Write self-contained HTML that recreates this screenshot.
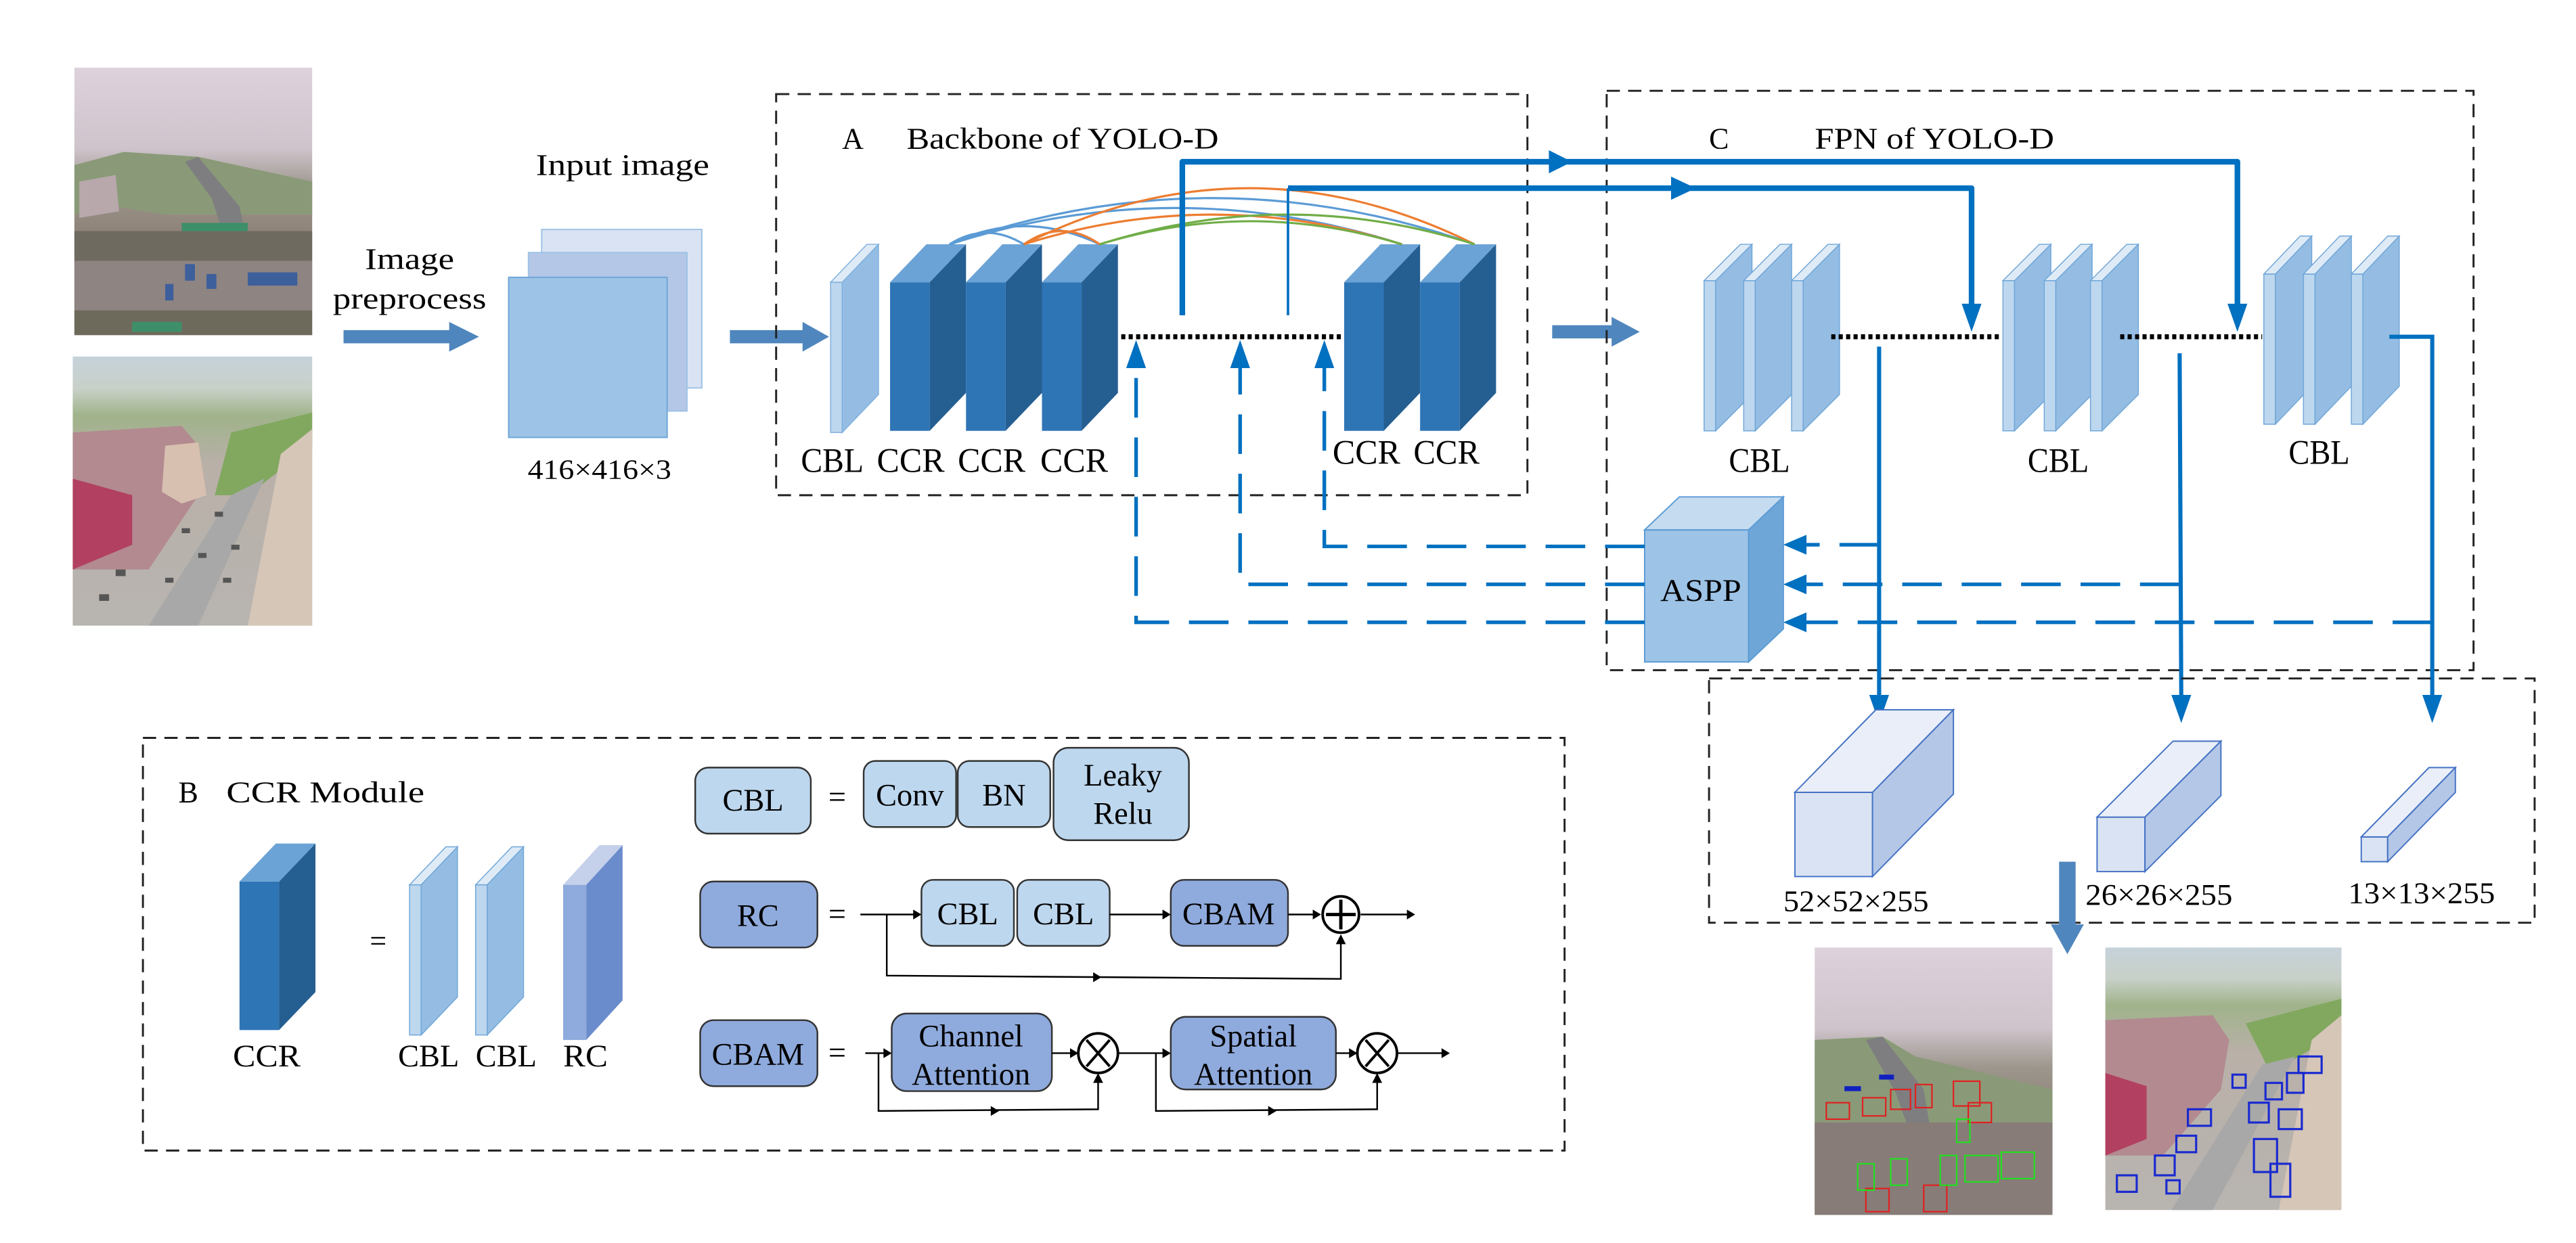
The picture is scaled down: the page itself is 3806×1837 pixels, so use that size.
<!DOCTYPE html>
<html><head><meta charset="utf-8"><style>
html,body{margin:0;padding:0;background:#fff;}
svg{display:block;}
text{font-family:"Liberation Serif",serif;fill:#000;}
</style></head><body>
<svg width="3806" height="1837" viewBox="0 0 1560 753" xmlns="http://www.w3.org/2000/svg">
<defs>
<linearGradient id="p1" x1="0" y1="0" x2="0" y2="1">
<stop offset="0" stop-color="#ddd2dc"/><stop offset="0.3" stop-color="#cfc4cc"/><stop offset="0.45" stop-color="#9c968c"/><stop offset="0.65" stop-color="#8c7f74"/><stop offset="1" stop-color="#8a7e78"/></linearGradient>
<linearGradient id="p2" x1="0" y1="0" x2="0" y2="1">
<stop offset="0" stop-color="#c6d2da"/><stop offset="0.12" stop-color="#c8d0c8"/><stop offset="0.22" stop-color="#9fb38a"/><stop offset="0.4" stop-color="#b9b0a8"/><stop offset="1" stop-color="#b8b4b0"/></linearGradient>
</defs>

<!-- input photos -->
<g>
<rect x="45" y="41" width="144" height="162" fill="url(#p1)"/>
<path d="M45,100 L75,92 L120,95 L189,110 L189,130 L100,130 L70,125 L45,130Z" fill="#8a9a78"/>
<path d="M48,110 L70,106 L72,128 L48,132Z" fill="#b8a8ac"/>
<path d="M120,95 L145,125 L150,150 L138,150 L128,120 L112,98Z" fill="#7e7e80"/>
<rect x="45" y="140" width="144" height="18" fill="#6f6a60"/>
<rect x="45" y="158" width="144" height="30" fill="#8e8482"/>
<rect x="45" y="188" width="144" height="15" fill="#6d6a5c"/>
<g fill="#3d5f9c"><rect x="112" y="160" width="6" height="10"/><rect x="150" y="165" width="30" height="8"/><rect x="100" y="172" width="5" height="10"/><rect x="125" y="166" width="6" height="9"/></g>
<g fill="#3d8f6a"><rect x="110" y="135" width="40" height="5"/><rect x="80" y="195" width="30" height="6"/></g>
<rect x="44" y="216" width="145" height="163" fill="url(#p2)"/>
<path d="M44,262 L110,258 L120,270 L120,300 L90,345 L44,345Z" fill="#b28a90"/>
<path d="M44,290 L80,300 L80,330 L44,345Z" fill="#b24060"/>
<path d="M100,270 L120,268 L125,300 L110,305 L98,298Z" fill="#d8c0b0"/>
<path d="M140,262 L189,250 L189,270 L150,300 L130,300Z" fill="#82a860"/>
<path d="M140,300 L160,290 L120,379 L90,379Z" fill="#a8a8a8"/>
<path d="M170,275 L189,260 L189,379 L150,379Z" fill="#d6c6b8"/>
<g fill="#555"><rect x="110" y="320" width="5" height="3"/><rect x="120" y="335" width="5" height="3"/><rect x="130" y="310" width="5" height="3"/><rect x="100" y="350" width="5" height="3"/><rect x="60" y="360" width="6" height="4"/><rect x="70" y="345" width="6" height="4"/><rect x="140" y="330" width="5" height="3"/><rect x="135" y="350" width="5" height="3"/></g>
</g>

<!-- Image preprocess -->
<text x="248" y="163" font-size="18" text-anchor="middle" textLength="54" lengthAdjust="spacingAndGlyphs">Image</text>
<text x="248" y="187" font-size="18" text-anchor="middle" textLength="93" lengthAdjust="spacingAndGlyphs">preprocess</text>
<polygon points="208,200 272,200 272,195 290,204 272,213 272,208 208,208" fill="#4f86bd"/>

<!-- input image -->
<text x="377" y="106" font-size="18" text-anchor="middle" textLength="105" lengthAdjust="spacingAndGlyphs">Input image</text>
<rect x="328" y="139" width="97" height="96" fill="#dae3f3" stroke="#9dc3e6" stroke-width="0.8"/>
<rect x="320" y="153" width="96" height="96" fill="#b4c7e7" stroke="#9dc3e6" stroke-width="0.8"/>
<rect x="308" y="168" width="96" height="97" fill="#9dc3e6" stroke="#6fa6d8" stroke-width="0.8"/>
<text x="363" y="290" font-size="17" text-anchor="middle" textLength="87" lengthAdjust="spacingAndGlyphs">416×416×3</text>
<polygon points="442,200 486,200 486,195 502,204 486,213 486,208 442,208" fill="#4f86bd"/>

<!-- Box A -->
<rect x="470" y="57" width="455" height="243" fill="none" stroke="#222" stroke-width="1.2" stroke-dasharray="8,5"/>
<text x="510" y="90" font-size="18">A</text>
<text x="549" y="90" font-size="18" textLength="189" lengthAdjust="spacingAndGlyphs">Backbone of YOLO-D</text>

<!-- backbone CBL slab -->
<g transform="translate(503,1)">
<rect x="0" y="170" width="7" height="91" fill="#bdd7ee" stroke="#7fb0de" stroke-width="0.6"/>
<polygon points="7,170 29,147 29,238 7,261" fill="#95bde3" stroke="#7fb0de" stroke-width="0.6"/>
<polygon points="0,170 22,147 29,147 7,170" fill="#deebf7" stroke="#7fb0de" stroke-width="0.6"/>
</g>
<!-- CCR blocks -->
<g id="ccr">
<rect x="539" y="171" width="24" height="90" fill="#2e75b6"/>
<polygon points="563,171 585,148 585,238 563,261" fill="#255e91"/>
<polygon points="539,171 561,148 585,148 563,171" fill="#6ba3d6"/>
</g>
<g transform="translate(46,0)">
<rect x="539" y="171" width="24" height="90" fill="#2e75b6"/>
<polygon points="563,171 585,148 585,238 563,261" fill="#255e91"/>
<polygon points="539,171 561,148 585,148 563,171" fill="#6ba3d6"/>
</g>
<g transform="translate(92,0)">
<rect x="539" y="171" width="24" height="90" fill="#2e75b6"/>
<polygon points="563,171 585,148 585,238 563,261" fill="#255e91"/>
<polygon points="539,171 561,148 585,148 563,171" fill="#6ba3d6"/>
</g>
<g transform="translate(275,0)">
<rect x="539" y="171" width="24" height="90" fill="#2e75b6"/>
<polygon points="563,171 585,148 585,238 563,261" fill="#255e91"/>
<polygon points="539,171 561,148 585,148 563,171" fill="#6ba3d6"/>
</g>
<g transform="translate(321,0)">
<rect x="539" y="171" width="24" height="90" fill="#2e75b6"/>
<polygon points="563,171 585,148 585,238 563,261" fill="#255e91"/>
<polygon points="539,171 561,148 585,148 563,171" fill="#6ba3d6"/>
</g>
<!-- arcs -->
<g fill="none" stroke-width="1.3">
<path d="M575,148 Q734,92 893,148" stroke="#5b9bd5"/>
<path d="M575,148 Q712,104 849,148" stroke="#5b9bd5"/>
<path d="M575,148 Q620,126 666,148" stroke="#5b9bd5"/>
<path d="M575,148 Q597,134 620,148" stroke="#5b9bd5"/>
<path d="M620,148 Q756,80 893,148" stroke="#ed7d31"/>
<path d="M620,148 Q734,112 849,148" stroke="#ed7d31"/>
<path d="M620,148 Q643,132 666,148" stroke="#ed7d31"/>
<path d="M666,148 Q780,112 893,148" stroke="#70ad47"/>
<path d="M666,148 Q757,120 849,148" stroke="#70ad47"/>
</g>
<g font-size="21">
<text x="485" y="286" textLength="38" lengthAdjust="spacingAndGlyphs">CBL</text>
<text x="531" y="286" textLength="41" lengthAdjust="spacingAndGlyphs">CCR</text>
<text x="580" y="286" textLength="41" lengthAdjust="spacingAndGlyphs">CCR</text>
<text x="630" y="286" textLength="41" lengthAdjust="spacingAndGlyphs">CCR</text>
<text x="807" y="281" textLength="41" lengthAdjust="spacingAndGlyphs">CCR</text>
<text x="856" y="281" textLength="40" lengthAdjust="spacingAndGlyphs">CCR</text>
</g>
<line x1="679" y1="204" x2="814" y2="204" stroke="#000" stroke-width="3" stroke-dasharray="2.5,2"/>

<!-- arrow between boxes -->
<polygon points="940,197 976,197 976,192 993,201 976,210 976,205 940,205" fill="#4f86bd"/>

<!-- Box C -->
<rect x="973" y="55" width="525" height="351" fill="none" stroke="#222" stroke-width="1.2" stroke-dasharray="8,5"/>
<text x="1035" y="90" font-size="18">C</text>
<text x="1099" y="90" font-size="18" textLength="145" lengthAdjust="spacingAndGlyphs">FPN of YOLO-D</text>

<!-- FPN slabs -->
<g transform="translate(1032,0)"><rect x="0" y="170" width="7" height="91" fill="#bdd7ee" stroke="#6fa6d8" stroke-width="0.6"/><polygon points="7,170 29,148 29,239 7,261" fill="#95bde3" stroke="#6fa6d8" stroke-width="0.6"/><polygon points="0,170 22,148 29,148 7,170" fill="#deebf7" stroke="#6fa6d8" stroke-width="0.6"/></g>
<g transform="translate(1056,0)"><rect x="0" y="170" width="7" height="91" fill="#bdd7ee" stroke="#6fa6d8" stroke-width="0.6"/><polygon points="7,170 29,148 29,239 7,261" fill="#95bde3" stroke="#6fa6d8" stroke-width="0.6"/><polygon points="0,170 22,148 29,148 7,170" fill="#deebf7" stroke="#6fa6d8" stroke-width="0.6"/></g>
<g transform="translate(1085,0)"><rect x="0" y="170" width="7" height="91" fill="#bdd7ee" stroke="#6fa6d8" stroke-width="0.6"/><polygon points="7,170 29,148 29,239 7,261" fill="#95bde3" stroke="#6fa6d8" stroke-width="0.6"/><polygon points="0,170 22,148 29,148 7,170" fill="#deebf7" stroke="#6fa6d8" stroke-width="0.6"/></g>
<g transform="translate(1213,0)"><rect x="0" y="170" width="7" height="91" fill="#bdd7ee" stroke="#6fa6d8" stroke-width="0.6"/><polygon points="7,170 29,148 29,239 7,261" fill="#95bde3" stroke="#6fa6d8" stroke-width="0.6"/><polygon points="0,170 22,148 29,148 7,170" fill="#deebf7" stroke="#6fa6d8" stroke-width="0.6"/></g>
<g transform="translate(1238,0)"><rect x="0" y="170" width="7" height="91" fill="#bdd7ee" stroke="#6fa6d8" stroke-width="0.6"/><polygon points="7,170 29,148 29,239 7,261" fill="#95bde3" stroke="#6fa6d8" stroke-width="0.6"/><polygon points="0,170 22,148 29,148 7,170" fill="#deebf7" stroke="#6fa6d8" stroke-width="0.6"/></g>
<g transform="translate(1266,0)"><rect x="0" y="170" width="7" height="91" fill="#bdd7ee" stroke="#6fa6d8" stroke-width="0.6"/><polygon points="7,170 29,148 29,239 7,261" fill="#95bde3" stroke="#6fa6d8" stroke-width="0.6"/><polygon points="0,170 22,148 29,148 7,170" fill="#deebf7" stroke="#6fa6d8" stroke-width="0.6"/></g>
<g transform="translate(1371,-4)"><rect x="0" y="170" width="7" height="91" fill="#bdd7ee" stroke="#6fa6d8" stroke-width="0.6"/><polygon points="7,170 29,147 29,238 7,261" fill="#95bde3" stroke="#6fa6d8" stroke-width="0.6"/><polygon points="0,170 22,147 29,147 7,170" fill="#deebf7" stroke="#6fa6d8" stroke-width="0.6"/></g>
<g transform="translate(1395,-4)"><rect x="0" y="170" width="7" height="91" fill="#bdd7ee" stroke="#6fa6d8" stroke-width="0.6"/><polygon points="7,170 29,147 29,238 7,261" fill="#95bde3" stroke="#6fa6d8" stroke-width="0.6"/><polygon points="0,170 22,147 29,147 7,170" fill="#deebf7" stroke="#6fa6d8" stroke-width="0.6"/></g>
<g transform="translate(1424,-4)"><rect x="0" y="170" width="7" height="91" fill="#bdd7ee" stroke="#6fa6d8" stroke-width="0.6"/><polygon points="7,170 29,147 29,238 7,261" fill="#95bde3" stroke="#6fa6d8" stroke-width="0.6"/><polygon points="0,170 22,147 29,147 7,170" fill="#deebf7" stroke="#6fa6d8" stroke-width="0.6"/></g>
<g font-size="21">
<text x="1047" y="286" textLength="37" lengthAdjust="spacingAndGlyphs">CBL</text>
<text x="1228" y="286" textLength="37" lengthAdjust="spacingAndGlyphs">CBL</text>
<text x="1386" y="281" textLength="37" lengthAdjust="spacingAndGlyphs">CBL</text>
</g>
<line x1="1109" y1="204" x2="1211" y2="204" stroke="#000" stroke-width="3" stroke-dasharray="2.5,2"/>
<line x1="1284" y1="204" x2="1370" y2="204" stroke="#000" stroke-width="3" stroke-dasharray="2.5,2"/>

<!-- thick skip lines -->
<g fill="none" stroke="#0070c0" stroke-linejoin="round">
<polyline points="716,191 716,98 1355,98 1355,186" stroke-width="3.4"/>
<line x1="780" y1="191" x2="780" y2="114" stroke-width="1.5"/>
<polyline points="780,114 1194,114 1194,186" stroke-width="3.4"/>
</g>
<g fill="#0070c0">
<polygon points="938,91 952,98 938,105"/>
<polygon points="1012,107 1027,114 1012,121"/>
<polygon points="1349,184 1361,184 1355,201"/>
<polygon points="1188,184 1200,184 1194,201"/>
</g>

<!-- ASPP -->
<rect x="996" y="321" width="63" height="80" fill="#9dc3e6" stroke="#5b9bd5" stroke-width="0.8"/>
<polygon points="996,321 1017,301 1080,301 1059,321" fill="#c5dbf0" stroke="#5b9bd5" stroke-width="0.8"/>
<polygon points="1059,321 1080,301 1080,381 1059,401" fill="#6fa6d8" stroke="#5b9bd5" stroke-width="0.8"/>
<text x="1030" y="364" font-size="19" text-anchor="middle" textLength="49" lengthAdjust="spacingAndGlyphs">ASPP</text>

<!-- outputs from FPN -->
<g fill="none" stroke="#0070c0" stroke-width="2.5">
<line x1="1138" y1="210" x2="1138" y2="425"/>
<line x1="1320" y1="214" x2="1321" y2="425"/>
<polyline points="1447,204 1473,204 1473,425"/>
</g>
<g fill="#0070c0">
<polygon points="1132,421 1144,421 1138,438"/>
<polygon points="1315,421 1327,421 1321,438"/>
<polygon points="1467,421 1479,421 1473,438"/>
</g>
<!-- dashed into ASPP -->
<g fill="none" stroke="#0070c0" stroke-width="2.2" stroke-dasharray="24,12">
<line x1="1138" y1="330" x2="1094" y2="330"/>
<line x1="1320" y1="354" x2="1094" y2="354"/>
<line x1="1473" y1="377" x2="1094" y2="377"/>
<polyline points="996,331 802,331 802,223"/>
<polyline points="996,354 751,354 751,223"/>
<polyline points="996,377 688,377 688,223"/>
</g>
<g fill="#0070c0">
<polygon points="1080,330 1094,324 1094,336"/>
<polygon points="1080,354 1094,348 1094,360"/>
<polygon points="1080,377 1094,371 1094,383"/>
<polygon points="802,206 796,223 808,223"/>
<polygon points="751,206 745,223 757,223"/>
<polygon points="688,206 682,223 694,223"/>
</g>

<!-- output box -->
<rect x="1035" y="411" width="500" height="148" fill="none" stroke="#222" stroke-width="1.2" stroke-dasharray="8,5"/>
<g stroke="#4472c4" stroke-width="0.8">
<rect x="1087" y="480" width="47" height="51" fill="#dae3f3"/>
<polygon points="1087,480 1136,430 1183,430 1134,480" fill="#e9eef8"/>
<polygon points="1134,480 1183,430 1183,481 1134,531" fill="#b4c7e7"/>
<rect x="1270" y="495" width="29" height="33" fill="#dae3f3"/>
<polygon points="1270,495 1316,449 1345,449 1299,495" fill="#e9eef8"/>
<polygon points="1299,495 1345,449 1345,482 1299,528" fill="#b4c7e7"/>
<rect x="1430" y="507" width="16" height="15" fill="#dae3f3"/>
<polygon points="1430,507 1471,465 1487,465 1446,507" fill="#e9eef8"/>
<polygon points="1446,507 1487,465 1487,480 1446,522" fill="#b4c7e7"/>
</g>
<g font-size="18">
<text x="1080" y="552" textLength="88" lengthAdjust="spacingAndGlyphs">52×52×255</text>
<text x="1263" y="548" textLength="89" lengthAdjust="spacingAndGlyphs">26×26×255</text>
<text x="1422" y="547" textLength="89" lengthAdjust="spacingAndGlyphs">13×13×255</text>
</g>
<polygon points="1247,522 1257,522 1257,560 1262,560 1252,578 1242,560 1247,560" fill="#4f86bd"/>

<!-- result photos -->
<g>
<rect x="1099" y="574" width="144" height="162" fill="url(#p1)"/>
<path d="M1099,630 L1140,628 L1160,640 L1243,660 L1243,680 L1099,690Z" fill="#8a9a78"/>
<path d="M1140,628 L1165,660 L1170,690 L1158,690 L1148,662 L1130,630Z" fill="#7e7e80"/>
<rect x="1099" y="680" width="144" height="56" fill="#877c77"/>
<g fill="none" stroke-width="0.9">
<rect x="1106" y="668" width="14" height="10" stroke="#e02020"/><rect x="1128" y="665" width="14" height="11" stroke="#e02020"/><rect x="1145" y="660" width="12" height="12" stroke="#e02020"/><rect x="1160" y="657" width="10" height="14" stroke="#e02020"/><rect x="1183" y="655" width="16" height="15" stroke="#e02020"/><rect x="1192" y="668" width="14" height="12" stroke="#e02020"/><rect x="1130" y="720" width="14" height="14" stroke="#e02020"/><rect x="1165" y="718" width="14" height="16" stroke="#e02020"/>
<rect x="1125" y="705" width="10" height="16" stroke="#20e020"/><rect x="1145" y="702" width="10" height="16" stroke="#20e020"/><rect x="1175" y="700" width="10" height="18" stroke="#20e020"/><rect x="1190" y="700" width="20" height="16" stroke="#20e020"/><rect x="1212" y="698" width="20" height="16" stroke="#20e020"/><rect x="1185" y="678" width="8" height="14" stroke="#20e020"/>
</g>
<g fill="#1020c0"><rect x="1117" y="658" width="10" height="3"/><rect x="1138" y="651" width="9" height="3"/></g>
<rect x="1275" y="574" width="143" height="159" fill="url(#p2)"/>
<path d="M1275,618 L1340,615 L1350,630 L1345,660 L1310,700 L1275,700Z" fill="#b28a90"/>
<path d="M1275,650 L1300,658 L1300,690 L1275,700Z" fill="#b24060"/>
<path d="M1360,620 L1418,605 L1418,625 L1375,650Z" fill="#82a860"/>
<path d="M1370,645 L1390,640 L1340,733 L1315,733Z" fill="#a8a8a8"/>
<path d="M1400,630 L1418,615 L1418,733 L1380,733Z" fill="#d6c6b8"/>
<g fill="none" stroke="#1a2ad0" stroke-width="1.3">
<rect x="1352" y="651" width="8" height="8"/><rect x="1372" y="656" width="10" height="10"/><rect x="1385" y="650" width="10" height="12"/><rect x="1362" y="668" width="12" height="12"/><rect x="1380" y="672" width="14" height="12"/><rect x="1365" y="690" width="14" height="20"/><rect x="1375" y="705" width="12" height="20"/><rect x="1325" y="672" width="14" height="10"/><rect x="1318" y="688" width="12" height="10"/><rect x="1305" y="700" width="12" height="12"/><rect x="1282" y="712" width="12" height="10"/><rect x="1312" y="715" width="8" height="8"/><rect x="1392" y="640" width="14" height="10"/>
</g>
</g>

<!-- Box B -->
<rect x="86.5" y="447" width="861" height="250" fill="none" stroke="#222" stroke-width="1.2" stroke-dasharray="8,5"/>
<text x="108" y="486" font-size="18">B</text>
<text x="137" y="486" font-size="18" textLength="120" lengthAdjust="spacingAndGlyphs">CCR Module</text>
<g transform="translate(-394,363)">
<rect x="539" y="171" width="24" height="90" fill="#2e75b6"/>
<polygon points="563,171 585,148 585,238 563,261" fill="#255e91"/>
<polygon points="539,171 561,148 585,148 563,171" fill="#6ba3d6"/>
</g>
<text x="229" y="576" font-size="18" text-anchor="middle">=</text>
<g transform="translate(248,366)"><rect x="0" y="170" width="7" height="91" fill="#bdd7ee" stroke="#6fa6d8" stroke-width="0.6"/><polygon points="7,170 29,147 29,238 7,261" fill="#95bde3" stroke="#6fa6d8" stroke-width="0.6"/><polygon points="0,170 22,147 29,147 7,170" fill="#deebf7" stroke="#6fa6d8" stroke-width="0.6"/></g>
<g transform="translate(288,366)"><rect x="0" y="170" width="7" height="91" fill="#bdd7ee" stroke="#6fa6d8" stroke-width="0.6"/><polygon points="7,170 29,147 29,238 7,261" fill="#95bde3" stroke="#6fa6d8" stroke-width="0.6"/><polygon points="0,170 22,147 29,147 7,170" fill="#deebf7" stroke="#6fa6d8" stroke-width="0.6"/></g>
<rect x="341" y="536" width="14" height="94" fill="#8faadc"/>
<polygon points="355,536 377,512 377,606 355,630" fill="#6a8ccc"/>
<polygon points="341,536 363,512 377,512 355,536" fill="#c5d0ea"/>
<g font-size="19">
<text x="141" y="646" textLength="41" lengthAdjust="spacingAndGlyphs">CCR</text>
<text x="241" y="646" textLength="37" lengthAdjust="spacingAndGlyphs">CBL</text>
<text x="288" y="646" textLength="37" lengthAdjust="spacingAndGlyphs">CBL</text>
<text x="341" y="646" textLength="27" lengthAdjust="spacingAndGlyphs">RC</text>
</g>

<!-- module definitions -->
<g stroke="#333" stroke-width="1">
<rect x="421" y="465" width="70" height="40" rx="8" fill="#bdd7ee"/>
<rect x="523" y="461" width="56" height="40" rx="7" fill="#bdd7ee"/>
<rect x="580" y="461" width="56" height="40" rx="7" fill="#bdd7ee"/>
<rect x="638" y="453" width="82" height="56" rx="9" fill="#bdd7ee"/>
<rect x="424" y="534" width="71" height="40" rx="8" fill="#8faadc"/>
<rect x="558" y="533" width="56" height="40" rx="7" fill="#bdd7ee"/>
<rect x="616" y="533" width="56" height="40" rx="7" fill="#bdd7ee"/>
<rect x="709" y="533" width="71" height="40" rx="8" fill="#8faadc"/>
<rect x="424" y="618" width="71" height="40" rx="8" fill="#8faadc"/>
<rect x="540" y="614" width="97" height="47" rx="9" fill="#8faadc"/>
<rect x="709" y="616" width="100" height="44" rx="9" fill="#8faadc"/>
</g>
<g font-size="19" text-anchor="middle">
<text x="456" y="491">CBL</text>
<text x="507" y="489">=</text>
<text x="551" y="488">Conv</text>
<text x="608" y="488">BN</text>
<text x="680" y="476">Leaky</text>
<text x="680" y="499">Relu</text>
<text x="459" y="561">RC</text>
<text x="507" y="560">=</text>
<text x="586" y="560">CBL</text>
<text x="644" y="560">CBL</text>
<text x="744" y="560">CBAM</text>
<text x="459" y="645">CBAM</text>
<text x="507" y="644">=</text>
<text x="588" y="634">Channel</text>
<text x="588" y="657">Attention</text>
<text x="759" y="634">Spatial</text>
<text x="759" y="657">Attention</text>
</g>
<g fill="none" stroke="#000" stroke-width="1">
<line x1="521" y1="554" x2="556" y2="554"/>
<line x1="672" y1="554" x2="707" y2="554"/>
<line x1="780" y1="554" x2="798" y2="554"/>
<line x1="824" y1="554" x2="855" y2="554"/>
<polyline points="537,554 537,591 812,593 812,568"/>
<circle cx="812" cy="554" r="11" stroke-width="1.6"/>
<line x1="812" y1="545" x2="812" y2="563" stroke-width="2"/><line x1="803" y1="554" x2="821" y2="554" stroke-width="2"/>
<line x1="524" y1="638" x2="538" y2="638"/>
<line x1="637" y1="638" x2="652" y2="638"/>
<line x1="677" y1="638" x2="707" y2="638"/>
<line x1="809" y1="638" x2="821" y2="638"/>
<line x1="846" y1="638" x2="876" y2="638"/>
<polyline points="532,638 532,673 665,672 665,652"/>
<polyline points="700,638 700,673 834,672 834,652"/>
<circle cx="665" cy="638" r="12" stroke-width="1.6"/>
<line x1="658" y1="630" x2="672" y2="646" stroke-width="1.6"/><line x1="672" y1="630" x2="658" y2="646" stroke-width="1.6"/>
<circle cx="834" cy="638" r="12" stroke-width="1.6"/>
<line x1="827" y1="630" x2="841" y2="646" stroke-width="1.6"/><line x1="841" y1="630" x2="827" y2="646" stroke-width="1.6"/>
</g>
<g fill="#000">
<polygon points="558,554 553,551 553,557"/>
<polygon points="709,554 704,551 704,557"/>
<polygon points="800,554 795,551 795,557"/>
<polygon points="857,554 852,551 852,557"/>
<polygon points="812,566 809,572 815,572"/>
<polygon points="667,592 662,589 662,595"/>
<polygon points="540,638 535,635 535,641"/>
<polygon points="653,638 648,635 648,641"/>
<polygon points="709,638 704,635 704,641"/>
<polygon points="822,638 817,635 817,641"/>
<polygon points="878,638 873,635 873,641"/>
<polygon points="665,650 662,656 668,656"/>
<polygon points="834,650 831,656 837,656"/>
<polygon points="605,673 600,670 600,676"/>
<polygon points="773,673 768,670 768,676"/>
</g>
</svg>
</body></html>
